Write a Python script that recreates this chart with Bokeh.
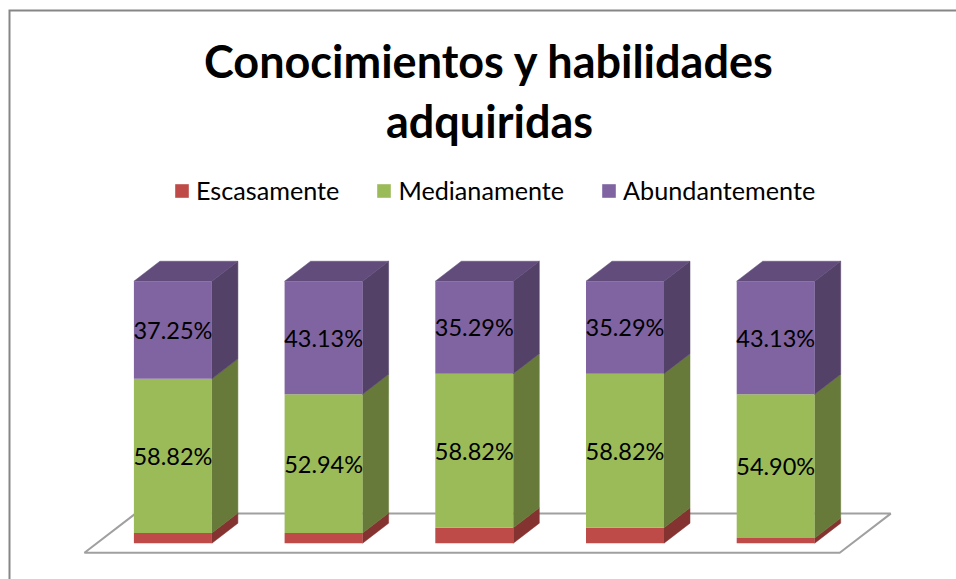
from bokeh.embed import file_html
from bokeh.resources import INLINE
from bokeh.plotting import figure
from bokeh.models import Range1d, Label, Legend, LegendItem, ColumnDataSource
from bokeh.core.properties import value

TITLE_LINES = ["Conocimientos y habilidades", "adquiridas"]
SERIES = ["Escasamente", "Medianamente", "Abundantemente"]
escasamente = [3.92, 3.92, 5.88, 5.88, 1.96]
medianamente = [58.82, 52.94, 58.82, 58.82, 54.90]
abundantemente = [37.25, 43.13, 35.29, 35.29, 43.13]
positions = [0, 1, 2, 3, 4]

FRONT = ["#BE4B48", "#9BBB59", "#8064A2"]
SIDE = ["#853331", "#677A3A", "#534168"]
TOP = "#614C7B"
FONT = "Lato"

W, H = 956, 579
PX_X = 150.7
PX_Y = 2.62
X0 = 172.4      # screen x of first bar centre
Y0 = 542.7      # screen y of the 0 baseline
BAR = 78 / PX_X
DX = 26 / PX_X
DY = 20 / PX_Y

p = figure(width=W, height=H, output_backend="svg", toolbar_location=None,
           x_range=Range1d(-X0 / PX_X, (W - X0) / PX_X),
           y_range=Range1d((Y0 - H) / PX_Y, Y0 / PX_Y),
           min_border=0, outline_line_color=None, background_fill_color="white",
           border_fill_color="white")
p.axis.visible = False
p.grid.visible = False

# chart frame: open at the right and bottom, where the picture cuts it off
frame_left = (9 - X0) / PX_X
frame_right = (W - X0) / PX_X
frame_top = (Y0 - 10) / PX_Y
frame_bottom = (Y0 - H) / PX_Y
p.line([frame_left, frame_left, frame_right], [frame_bottom, frame_top, frame_top],
       line_color="#868686", line_width=2, line_join="miter")

# floor
fl = -0.587
fr = 4.425
fdx = 51 / PX_X
fy0 = -3.66
fy1 = 11.3
p.patch([fl, fr, fr + fdx, fl + fdx], [fy0, fy0, fy1, fy1], fill_color="white",
        line_color="#A0A0A0", line_width=2)

items = []
bottoms = [0.0] * 5
stacks = [escasamente, medianamente, abundantemente]
for k, vals in enumerate(stacks):
    tops = [b + v for b, v in zip(bottoms, vals)]
    xs = [[x + BAR / 2, x + BAR / 2 + DX, x + BAR / 2 + DX, x + BAR / 2] for x in positions]
    ys = [[b, b + DY, t + DY, t] for b, t in zip(bottoms, tops)]
    p.patches(xs, ys, fill_color=SIDE[k], line_color=SIDE[k], line_width=0.5)
    if k == 2:
        xs_t = [[x - BAR / 2, x + BAR / 2, x + BAR / 2 + DX, x - BAR / 2 + DX] for x in positions]
        ys_t = [[t, t, t + DY, t + DY] for t in tops]
        p.patches(xs_t, ys_t, fill_color=TOP, line_color=TOP, line_width=0.5)
    src = ColumnDataSource(dict(x=positions, bottom=bottoms, top=tops))
    r = p.vbar(x="x", bottom="bottom", top="top", width=BAR, source=src,
               fill_color=FRONT[k], line_color=None)
    items.append(LegendItem(label=SERIES[k], renderers=[r]))
    bottoms = tops

# data labels
bottoms = [0.0] * 5
for k, vals in enumerate(stacks):
    if k > 0:
        src = ColumnDataSource(dict(
            x=positions,
            y=[b + v / 2 for b, v in zip(bottoms, vals)],
            t=[f"{v:.2f}%" for v in vals]))
        p.text(x="x", y="y", text="t", source=src, text_align="center", text_baseline="middle",
               text_font=value(FONT), text_font_size="23.5px", text_color="black")
    bottoms = [b + v for b, v in zip(bottoms, vals)]

# title
for line, sy in zip(TITLE_LINES, [60, 120]):
    p.add_layout(Label(x=489, y=H - sy, x_units="screen", y_units="screen", text=line,
                       text_align="center", text_baseline="middle",
                       text_font=FONT, text_font_style="bold", text_font_size="45px",
                       text_color="black"))

legend = Legend(items=items, orientation="horizontal", location=(173, H - 205),
                glyph_width=17, glyph_height=17, label_standoff=6, spacing=36, padding=0, margin=0,
                border_line_color=None, background_fill_alpha=0,
                label_text_font=FONT, label_text_font_size="25.2px", label_text_color="black",
                label_height=17)
p.add_layout(legend)

open("out.html", "w").write(file_html(p, INLINE))
